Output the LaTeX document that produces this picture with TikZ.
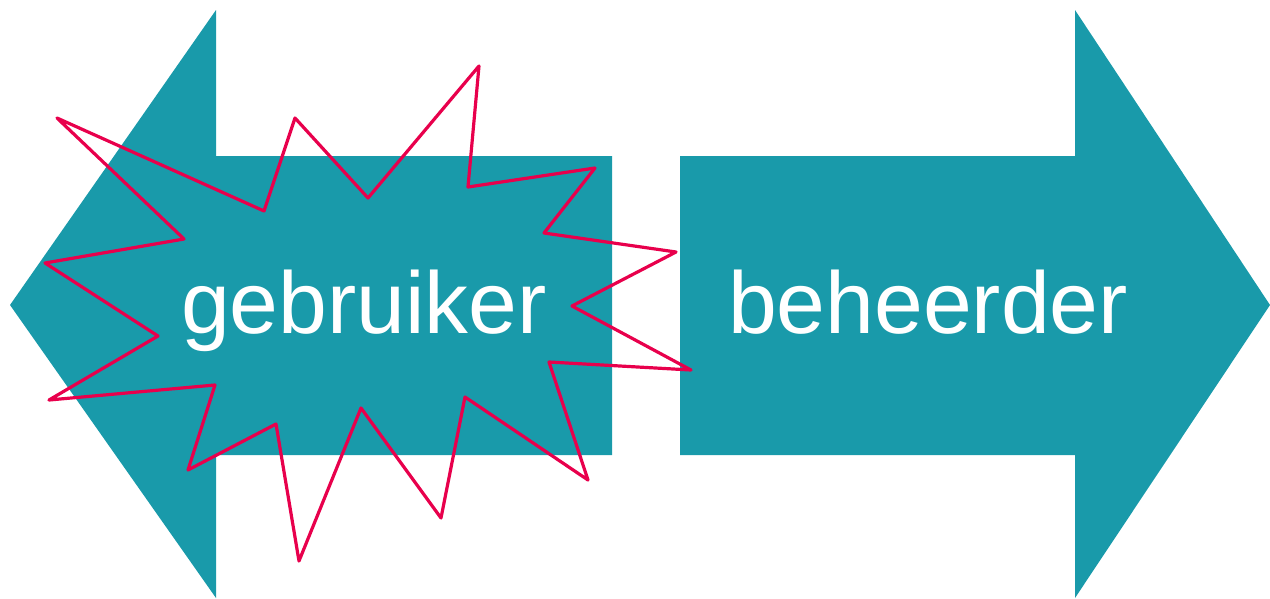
\documentclass[tikz,border=0pt]{standalone}
\usepackage{fontspec}
\setmainfont{Liberation Sans}
\definecolor{teal1}{HTML}{199AAA}
\definecolor{burst}{HTML}{E8004C}
\begin{document}
\begin{tikzpicture}[x=1pt,y=-1pt,
  arrowfill/.style={fill=teal1,draw=none},
  label/.style={text=white,anchor=base,inner sep=0pt,font=\fontsize{87.7}{100}\selectfont},
  burstline/.style={draw=burst,line width=3.2pt,line join=round}]
\useasboundingbox (0,0) rectangle (1270,598);
% left arrow
\path[arrowfill] (10,305) -- (216,10) -- (216,156) -- (612,156) -- (612,455) -- (216,455) -- (216,598) -- cycle;
% right arrow
\path[arrowfill] (1270,305) -- (1075,10) -- (1075,156) -- (680,156) -- (680,455) -- (1075,455) -- (1075,598) -- cycle;
\node[label] (geb) at (364,333) {gebruiker};
\node[label] (beh) at (928,333) {beheerder};
% starburst
\draw[burstline] (57,118) -- (264,211) -- (295,118) -- (368,198) -- (479,66) -- (468,187) -- (595,168) -- (544,233) -- (676,252) -- (572,306) -- (691,370) -- (549,362) -- (588,480) -- (465,397) -- (441,518) -- (361,408) -- (299,561) -- (276,424) -- (188,470) -- (215,385) -- (49,400) -- (158,336) -- (45,263) -- (184,239) -- cycle;
\end{tikzpicture}
\end{document}
